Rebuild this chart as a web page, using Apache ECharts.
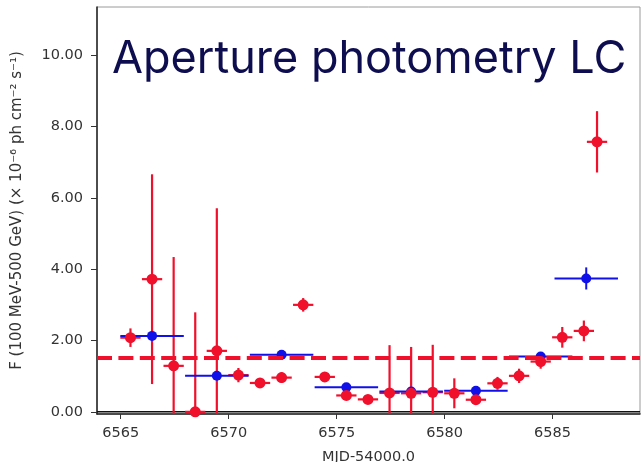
<!DOCTYPE html>
<html>
<head>
<meta charset="utf-8">
<script src="https://cdn.jsdelivr.net/npm/echarts@6/dist/echarts.min.js"></script>
<style>
  html, body { margin: 0; padding: 0; background: #ffffff; }
  #chart { width: 643px; height: 462px; }
</style>
</head>
<body>
<div id="chart"></div>
<script>
// Daily aperture-photometry bins (MJD-54000, flux in 1e-6 ph cm^-2 s^-1)
const dailyMjd = [6565.45, 6566.45, 6567.45, 6568.45, 6569.45, 6570.45, 6571.45, 6572.45,
  6573.45, 6574.45, 6575.45, 6576.45, 6577.45, 6578.45, 6579.45, 6580.45, 6581.45,
  6582.45, 6583.45, 6584.45, 6585.45, 6586.45, 6587.06];
const dailyFlux = [2.08, 3.72, 1.29, 0.00, 1.71, 1.03, 0.81, 0.96, 3.00, 0.98, 0.46, 0.35,
  0.53, 0.52, 0.55, 0.52, 0.34, 0.80, 1.01, 1.41, 2.09, 2.27, 7.57];
const dailyFluxErr = [0.26, 2.94, 3.05, 2.79, 4.00, 0.20, 0.12, 0.15, 0.19, 0.12, 0.12, 0.12,
  1.34, 1.30, 1.33, 0.42, 0.12, 0.18, 0.20, 0.20, 0.29, 0.29, 0.86];
const dailyHalfWidth = 0.47;

// Three-day bins
const binMjd = [6566.45, 6569.45, 6572.45, 6575.45, 6578.45, 6581.45, 6584.45, 6586.56];
const binFlux = [2.13, 1.01, 1.60, 0.69, 0.57, 0.59, 1.55, 3.74];
const binFluxErr = [0.08, 0.08, 0.08, 0.08, 0.08, 0.08, 0.08, 0.31];
const binHalfWidth = 1.47;

// Mean flux level
const meanFlux = 1.51;

const xTicks = [6565, 6570, 6575, 6580, 6585];
const yTicks = [0, 2, 4, 6, 8, 10];
const xRange = [6563.9, 6589.05];
const yRange = [-0.06, 11.35];

const RED = '#f0102c';
const BLUE = '#1010e8';
const FONT = 'DejaVu Sans';

function errorBarSeries(xs, ys, eys, hw, color, width, z) {
  return {
    type: 'custom',
    clip: true,
    z: z,
    silent: true,
    data: xs.map((x, i) => [x, ys[i], hw, eys[i]]),
    renderItem: function (params, api) {
      const x = api.value(0), y = api.value(1), ex = api.value(2), ey = api.value(3);
      const l = api.coord([x - ex, y]);
      const r = api.coord([x + ex, y]);
      const t = api.coord([x, y + ey]);
      const b = api.coord([x, y - ey]);
      const st = { stroke: color, lineWidth: width };
      return {
        type: 'group',
        children: [
          { type: 'line', shape: { x1: l[0], y1: l[1], x2: r[0], y2: r[1] }, style: st },
          { type: 'line', shape: { x1: t[0], y1: t[1], x2: b[0], y2: b[1] }, style: st }
        ]
      };
    }
  };
}

const chart = echarts.init(document.getElementById('chart'), null, { renderer: 'canvas' });

chart.setOption({
  animation: false,
  backgroundColor: '#ffffff',
  grid: {
    left: 97, top: 7, width: 543, height: 407,
    outerBoundsMode: 'none',
    containLabel: false,
    show: true, borderColor: '#9a9a9a', borderWidth: 1, backgroundColor: 'transparent'
  },
  xAxis: {
    type: 'value',
    min: xRange[0], max: xRange[1],
    name: 'MJD-54000.0',
    nameLocation: 'middle',
    nameGap: 36,
    nameTextStyle: { fontFamily: FONT, fontSize: 14.5, color: '#333' },
    axisLine: { show: true, onZero: false, lineStyle: { color: '#222', width: 1.5 } },
    axisTick: { show: true, customValues: xTicks, length: 5, lineStyle: { color: '#333', width: 1 } },
    axisLabel: {
      customValues: xTicks, fontFamily: FONT, fontSize: 14.5, color: '#333', margin: 12,
      formatter: v => String(v)
    },
    splitLine: { show: false }
  },
  yAxis: {
    type: 'value',
    min: yRange[0], max: yRange[1],
    name: 'F (100 MeV-500 GeV) (\u00d7 10\u207b\u2076 ph cm\u207b\u00b2 s\u207b\u00b9)',
    nameLocation: 'middle',
    nameGap: 72,
    nameTextStyle: { fontFamily: FONT, fontSize: 15, color: '#333' },
    axisLine: { show: true, onZero: false, lineStyle: { color: '#222', width: 1.5 } },
    axisTick: { show: true, customValues: yTicks, length: 6, lineStyle: { color: '#333', width: 1 } },
    axisLabel: {
      customValues: yTicks, fontFamily: FONT, fontSize: 14.5, color: '#333', margin: 14,
      formatter: v => v.toFixed(2)
    },
    splitLine: { show: false }
  },
  graphic: [
    {
      type: 'text',
      left: 112, top: 37, z: 100,
      style: {
        text: 'Aperture photometry LC',
        fontFamily: 'Inter',
        fontSize: 45,
        fill: '#0d0d4f'
      }
    }
  ],
  series: [
    // zero flux reference
    {
      type: 'line', z: 1, silent: true, symbol: 'none',
      data: [[xRange[0], 0], [xRange[1], 0]],
      lineStyle: { color: '#111', width: 1.5 }
    },
    errorBarSeries(dailyMjd, dailyFlux, dailyFluxErr, dailyHalfWidth, RED, 2.2, 2),
    errorBarSeries(binMjd, binFlux, binFluxErr, binHalfWidth, BLUE, 2, 3),
    {
      type: 'scatter', z: 4, silent: true,
      data: binMjd.map((x, i) => [x, binFlux[i]]),
      symbol: 'circle', symbolSize: 10,
      itemStyle: { color: BLUE, opacity: 1 }
    },
    {
      type: 'scatter', z: 5, silent: true,
      data: dailyMjd.map((x, i) => [x, dailyFlux[i]]),
      symbol: 'circle', symbolSize: 11,
      itemStyle: { color: RED, opacity: 1 }
    },
    {
      type: 'line', z: 6, silent: true, symbol: 'none',
      data: [[xRange[0], meanFlux], [xRange[1], meanFlux]],
      lineStyle: { color: RED, width: 4, type: [15, 6.4] }
    }
  ]
});
</script>
</body>
</html>
